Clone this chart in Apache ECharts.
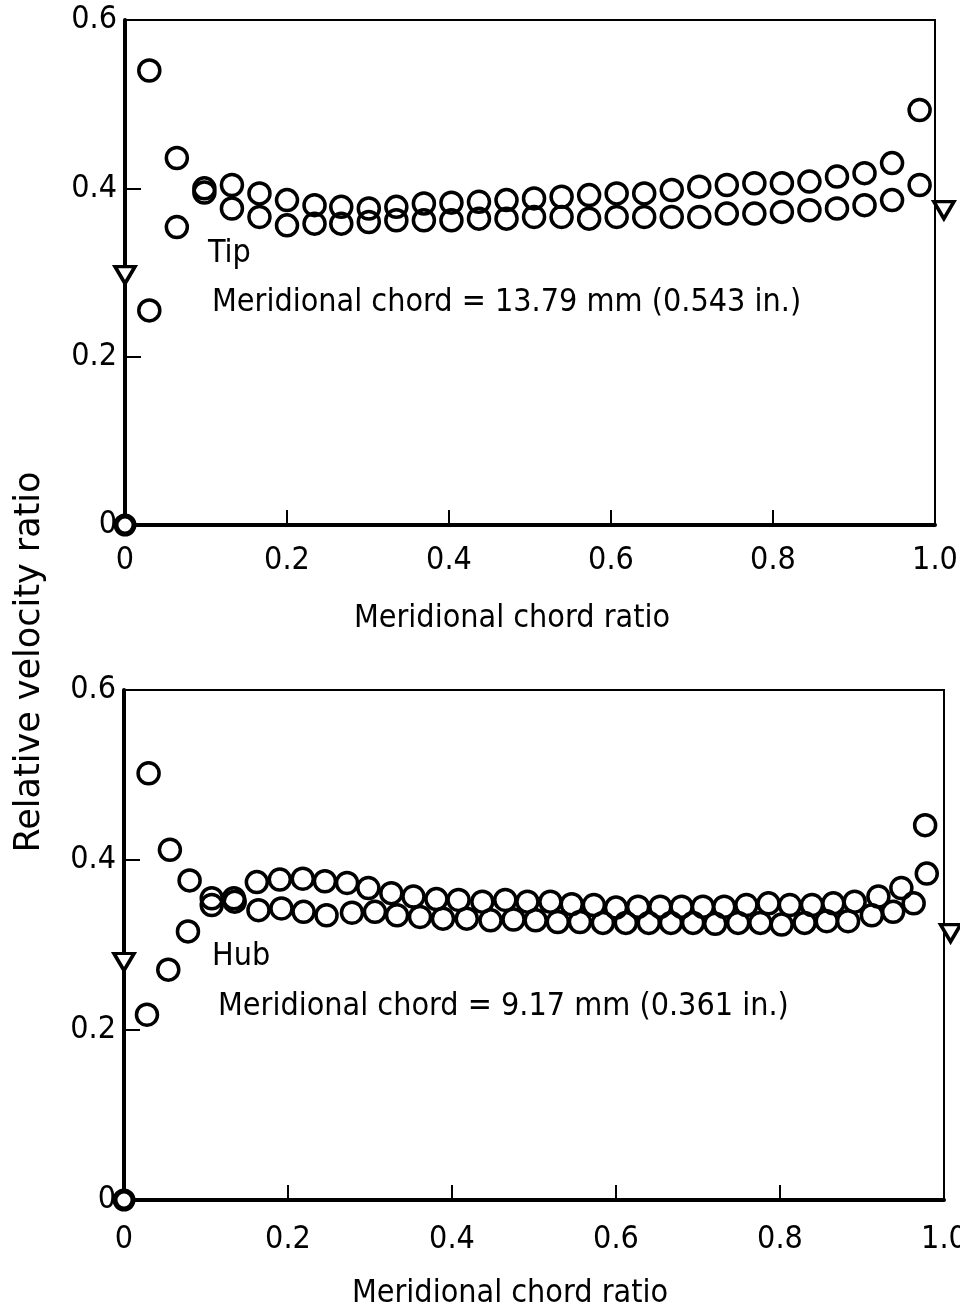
<!DOCTYPE html>
<html><head><meta charset="utf-8">
<script src="https://cdn.jsdelivr.net/npm/echarts@6/dist/echarts.min.js"></script>
<style>html,body{margin:0;padding:0;background:#fff}#c{width:960px;height:1310px}</style>
</head><body><div id="c"></div>
<script>
// ---- tick labels ----
const xTickLabels = ['0', '0.2', '0.4', '0.6', '0.8', '1.0'];
const yTickLabels = ['0', '0.2', '0.4', '0.6'];

// ---- Tip (top panel) ----
const tipX = [0.030, 0.064, 0.098, 0.132, 0.166, 0.200, 0.234, 0.267, 0.301, 0.335, 0.369, 0.403, 0.437, 0.471, 0.505,
              0.539, 0.573, 0.607, 0.641, 0.675, 0.709, 0.743, 0.777, 0.811, 0.845, 0.879, 0.913, 0.947, 0.981];
const tipUpper = [0.540, 0.436, 0.400, 0.404, 0.394, 0.386, 0.380, 0.378, 0.376, 0.378, 0.382, 0.383, 0.384, 0.386, 0.388,
                  0.390, 0.392, 0.394, 0.394, 0.398, 0.402, 0.404, 0.406, 0.406, 0.408, 0.414, 0.418, 0.430, 0.493];
const tipLower = [0.255, 0.354, 0.395, 0.376, 0.366, 0.356, 0.358, 0.358, 0.360, 0.362, 0.362, 0.362, 0.364, 0.364, 0.366,
                  0.366, 0.364, 0.366, 0.366, 0.366, 0.366, 0.370, 0.370, 0.372, 0.374, 0.376, 0.380, 0.386, 0.404];
const tipTriX = [0, 1.011];
const tipTriY = [0.297, 0.374];

// ---- Hub (bottom panel) ----
const hubUpperX = [0.030, 0.056, 0.080, 0.107, 0.134, 0.162, 0.190, 0.218, 0.245, 0.272, 0.298, 0.326, 0.353, 0.381, 0.408,
                   0.437, 0.465, 0.492, 0.520, 0.546, 0.573, 0.600, 0.627, 0.654, 0.680, 0.706, 0.732, 0.759, 0.786, 0.812,
                   0.839, 0.865, 0.891, 0.920, 0.948, 0.977];
const hubUpper = [0.502, 0.412, 0.376, 0.355, 0.355, 0.374, 0.377, 0.378, 0.375, 0.373, 0.367, 0.361, 0.357, 0.354, 0.353,
                  0.351, 0.353, 0.351, 0.351, 0.348, 0.347, 0.344, 0.345, 0.345, 0.345, 0.345, 0.345, 0.347, 0.349, 0.347,
                  0.347, 0.349, 0.351, 0.357, 0.367, 0.441];
const hubLowerX = [0.028, 0.054, 0.078, 0.107, 0.135, 0.164, 0.192, 0.219, 0.247, 0.278, 0.306, 0.333, 0.361, 0.389, 0.418,
                   0.447, 0.475, 0.502, 0.529, 0.556, 0.584, 0.612, 0.640, 0.667, 0.694, 0.721, 0.749, 0.776, 0.802, 0.830,
                   0.857, 0.883, 0.912, 0.938, 0.963, 0.979];
const hubLower = [0.218, 0.271, 0.316, 0.347, 0.351, 0.341, 0.343, 0.339, 0.335, 0.338, 0.339, 0.335, 0.333, 0.331, 0.331,
                  0.329, 0.330, 0.329, 0.327, 0.327, 0.326, 0.326, 0.326, 0.326, 0.326, 0.325, 0.326, 0.326, 0.324, 0.326,
                  0.328, 0.328, 0.335, 0.339, 0.349, 0.384];
const hubTriX = [0, 1.008];
const hubTriY = [0.280, 0.314];

const originX = [0];
const originY = [0];

const F = "'DejaVu Sans Condensed','Liberation Sans Narrow','DejaVu Sans',sans-serif";
const pairs = (xs, ys) => xs.map((x, i) => [x, ys[i]]);

function xAxis(gi) {
  return {
    type: 'value', gridIndex: gi, min: 0, max: 1, interval: 0.2,
    name: 'Meridional chord ratio', nameLocation: 'middle', nameGap: 78,
    nameTextStyle: { fontFamily: F, fontSize: 32, color: '#000', padding: [0, gi === 0 ? 36 : 48, 0, 0] },
    axisLine: { show: true, onZero: false, lineStyle: { color: '#000', width: 4 } },
    axisTick: { show: true, inside: true, length: 15, lineStyle: { color: '#000', width: 2 } },
    axisLabel: { margin: gi === 0 ? 20 : 24, fontFamily: F, fontSize: 32, color: '#000',
      formatter: v => xTickLabels[Math.round(v / 0.2)] },
    splitLine: { show: false }
  };
}
function yAxis(gi) {
  return {
    type: 'value', gridIndex: gi, min: 0, max: 0.6, interval: 0.2,
    axisLine: { show: true, onZero: false, lineStyle: { color: '#000', width: 4 } },
    axisTick: { show: true, inside: true, length: 16, lineStyle: { color: '#000', width: 2 } },
    axisLabel: { margin: 8, fontFamily: F, fontSize: 32, color: '#000',
      formatter: v => yTickLabels[Math.round(v / 0.2)] },
    splitLine: { show: false }
  };
}
const circleStyle = { color: 'rgba(0,0,0,0)', borderColor: '#000', borderWidth: 3.5, opacity: 1 };
function circles(data, gi) {
  return { type: 'scatter', xAxisIndex: gi, yAxisIndex: gi, data, symbol: 'circle', symbolSize: 21,
    itemStyle: circleStyle, clip: false, silent: true };
}
function tris(data, gi) {
  return { type: 'scatter', xAxisIndex: gi, yAxisIndex: gi, data, symbol: 'triangle', symbolSize: [20, 17],
    symbolRotate: 180, itemStyle: { color: '#fff', borderColor: '#000', borderWidth: 3.5, opacity: 1 }, clip: false, silent: true, z: 5 };
}
function origin(gi) {
  return { type: 'scatter', xAxisIndex: gi, yAxisIndex: gi, data: pairs(originX, originY), symbol: 'circle', symbolSize: 18,
    itemStyle: { color: '#fff', borderColor: '#000', borderWidth: 5, opacity: 1 }, clip: false, silent: true, z: 6 };
}

const chart = echarts.init(document.getElementById('c'), null, { renderer: 'canvas' });
chart.setOption({
  animation: false,
  backgroundColor: '#fff',
  grid: [
    { left: 125, top: 20, width: 810, height: 505, show: true, borderColor: '#000', borderWidth: 2, backgroundColor: 'transparent', outerBoundsMode: 'none', containLabel: false },
    { left: 124, top: 690, width: 820, height: 510, show: true, borderColor: '#000', borderWidth: 2, backgroundColor: 'transparent', outerBoundsMode: 'none', containLabel: false }
  ],
  xAxis: [xAxis(0), xAxis(1)],
  yAxis: [yAxis(0), yAxis(1)],
  series: [
    circles(pairs(tipX, tipUpper), 0),
    circles(pairs(tipX, tipLower), 0),
    tris(pairs(tipTriX, tipTriY), 0),
    origin(0),
    circles(pairs(hubUpperX, hubUpper), 1),
    circles(pairs(hubLowerX, hubLower), 1),
    tris(pairs(hubTriX, hubTriY), 1),
    origin(1)
  ],
  graphic: [
    { type: 'text', left: 208, top: 238, style: { text: 'Tip', fontFamily: F, fontSize: 32, fill: '#000' } },
    { type: 'text', left: 212, top: 287, style: { text: 'Meridional chord = 13.79 mm (0.543 in.)', fontFamily: F, fontSize: 32, fill: '#000' } },
    { type: 'text', left: 212, top: 941, style: { text: 'Hub', fontFamily: F, fontSize: 32, fill: '#000' } },
    { type: 'text', left: 218, top: 991, style: { text: 'Meridional chord = 9.17 mm (0.361 in.)', fontFamily: F, fontSize: 32, fill: '#000' } },
    { type: 'text', x: 30, y: 662, rotation: Math.PI / 2,
      style: { text: 'Relative velocity ratio', fontFamily: "'DejaVu Sans',sans-serif", fontSize: 35, fill: '#000', align: 'center', verticalAlign: 'middle' } }
  ]
});
</script>
</body></html>
